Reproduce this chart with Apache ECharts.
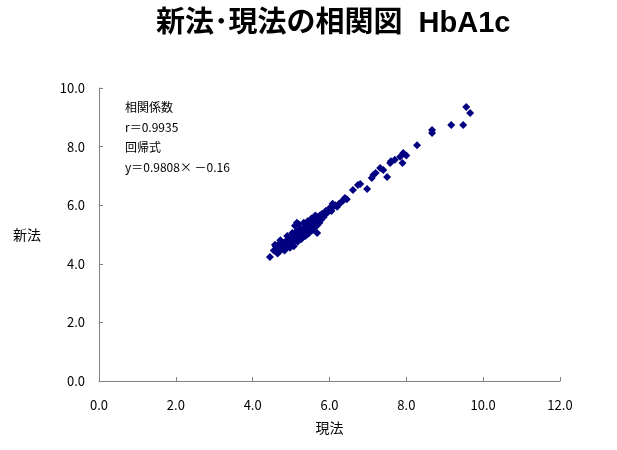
<!DOCTYPE html>
<html><head><meta charset="utf-8">
<script src="https://cdn.jsdelivr.net/npm/echarts@6/dist/echarts.min.js"></script>
<style>html,body{margin:0;padding:0;background:#fff}#c{width:617px;height:450px}</style>
</head><body><div id="c"></div>
<script>
const titleText = '新法･現法の相関図  HbA1c';
const xName = '現法';
const yName = '新法';
const notes = ['相関係数', 'r＝0.9935', '回帰式', 'y＝0.9808× －0.16'];
const xTicks = [0, 2, 4, 6, 8, 10, 12];
const yTicks = [0, 2, 4, 6, 8, 10];
const genhou = [4.45,4.55,4.6,4.62,4.65,4.68,4.7,4.7,4.72,4.75,4.78,4.8,4.8,4.82,4.85,4.85,4.88,4.9,4.9,4.92,4.95,4.95,4.98,5.0,5.0,5.02,5.05,5.05,5.08,5.1,5.1,5.12,5.15,5.15,5.18,5.2,5.2,5.22,5.25,5.25,5.28,5.3,5.3,5.32,5.35,5.35,5.38,5.4,5.4,5.42,5.45,5.45,5.48,5.5,5.5,5.52,5.55,5.58,5.6,5.62,5.65,5.68,5.7,5.72,5.75,5.8,5.85,5.9,5.95,6.0,6.02,6.05,6.1,6.15,6.2,6.3,6.4,6.45,6.61,6.74,6.8,6.98,7.1,7.14,7.2,7.32,7.4,7.5,7.58,7.6,7.7,7.84,7.9,7.92,8.0,8.28,8.67,8.67,9.17,9.48,9.56,9.66,
  5.1,5.15,5.2,4.6,4.75,5.0,5.3,5.5,4.65,4.72,4.83,4.9,4.97,5.03,5.07,5.13,5.17,5.23,5.27,5.33,5.37,5.43,5.47,5.53,5.57,5.63,5.67,5.78,5.88,6.08,6.25,6.35,4.58,4.88,5.18,5.42,5.6,5.74];
const shinhou = [4.23,4.45,4.5,4.4,4.55,4.6,4.5,4.7,4.45,4.6,4.55,4.7,4.5,4.65,4.6,4.75,4.7,4.8,4.6,4.7,4.85,4.65,4.75,4.9,4.7,4.8,4.95,4.75,4.85,5.0,4.8,4.9,5.05,4.85,4.95,5.1,4.9,5.0,5.15,4.95,5.05,5.2,5.0,5.1,5.25,5.05,5.15,5.3,5.1,5.2,5.35,5.15,5.25,5.4,5.2,5.3,5.45,5.35,5.5,5.4,5.55,5.05,5.6,5.5,5.65,5.7,5.6,5.8,5.75,5.9,5.85,5.8,5.95,6.0,5.95,6.1,6.25,6.2,6.52,6.69,6.72,6.55,6.93,7.03,7.1,7.27,7.2,6.96,7.44,7.5,7.55,7.65,7.44,7.78,7.7,8.05,8.46,8.57,8.74,8.74,9.35,9.15,
  5.3,5.4,5.35,4.6,4.55,4.85,5.15,5.45,4.35,4.8,4.45,4.95,4.55,5.05,4.6,5.1,4.75,5.2,4.85,5.4,4.95,5.45,5.05,5.55,5.15,5.65,5.3,5.5,5.7,6.05,6.05,6.15,4.65,4.55,4.8,5.0,5.25,5.4];
const points = genhou.map((x, i) => [x, shinhou[i]]);
const font = '"Noto Sans CJK JP", "Liberation Sans", sans-serif';
const chart = echarts.init(document.getElementById('c'));
chart.setOption({
  animation: false,
  backgroundColor: '#fff',
  title: { text: titleText, left: 151, top: 4,
    textStyle: { fontFamily: '"Liberation Sans", "Noto Sans CJK JP", sans-serif', fontSize: 29, fontWeight: 'bold', color: '#000' } },
  grid: { left: 99, right: 57, top: 88, bottom: 69 },
  xAxis: { type: 'value', min: 0, max: 12, interval: 2,
    name: xName, nameLocation: 'middle', nameGap: 40,
    nameTextStyle: { fontFamily: font, fontSize: 14, color: '#000' },
    axisLine: { lineStyle: { color: '#808080', width: 1 } },
    axisTick: { inside: true, length: 4, lineStyle: { color: '#808080' } },
    splitLine: { show: false },
    axisLabel: { fontFamily: font, fontSize: 13, color: '#000', margin: 18,
      formatter: v => xTicks.includes(v) ? v.toFixed(1) : '' } },
  yAxis: { type: 'value', min: 0, max: 10, interval: 2,
    name: yName, nameLocation: 'middle', nameGap: 58, nameRotate: 0,
    nameTextStyle: { fontFamily: font, fontSize: 14, color: '#000' },
    axisLine: { show: true, lineStyle: { color: '#808080', width: 1 } },
    axisTick: { show: true, inside: true, length: 4, lineStyle: { color: '#808080' } },
    splitLine: { show: false },
    axisLabel: { fontFamily: font, fontSize: 13, color: '#000', margin: 14,
      formatter: v => yTicks.includes(v) ? v.toFixed(1) : '' } },
  graphic: notes.map((t, i) => ({ type: 'text', left: 125, top: 101 + i * 20,
    style: { text: t, fontFamily: font, fontSize: 12, fill: '#000' } })),
  series: [{ type: 'scatter', data: points, symbol: 'diamond', symbolSize: 8,
    itemStyle: { color: '#000080', opacity: 1 } }]
});
</script></body></html>
